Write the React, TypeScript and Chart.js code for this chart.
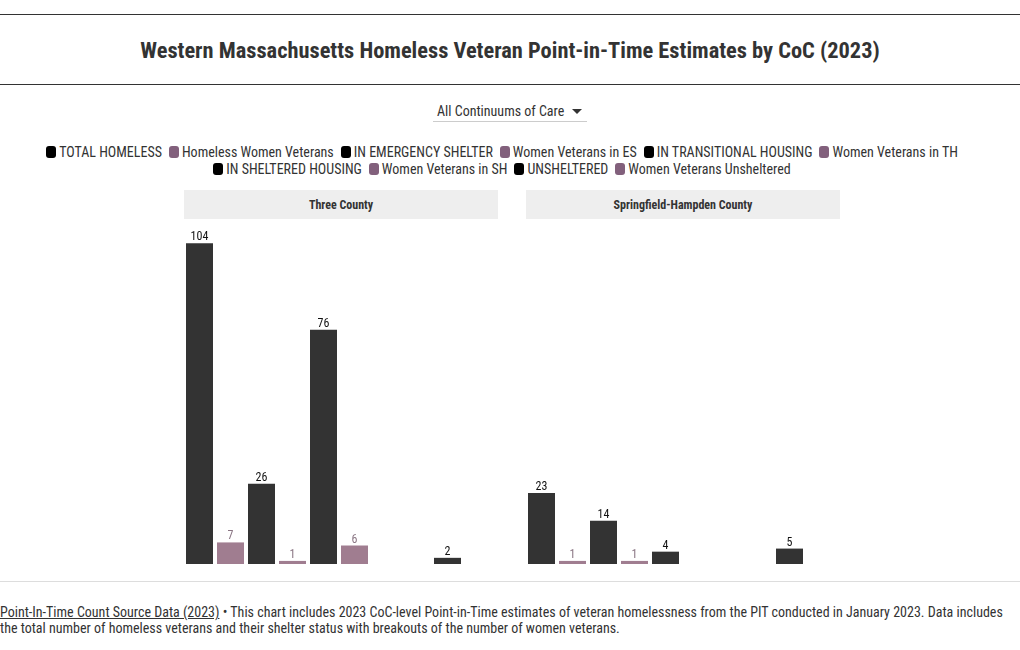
import React, { useEffect, useRef } from "react";
import { Chart, registerables } from "chart.js";

Chart.register(...registerables);

const seriesNames = [
  "TOTAL HOMELESS",
  "Homeless Women Veterans",
  "IN EMERGENCY SHELTER",
  "Women Veterans in ES",
  "IN TRANSITIONAL HOUSING",
  "Women Veterans in TH",
  "IN SHELTERED HOUSING",
  "Women Veterans in SH",
  "UNSHELTERED",
  "Women Veterans Unsheltered",
];
const isWomen = [false, true, false, true, false, true, false, true, false, true];
const panelNames = ["Three County", "Springfield-Hampden County"];
const threeCountyValues: (number | null)[] = [104, 7, 26, 1, 76, 6, null, null, 2, null];
const springfieldValues: (number | null)[] = [23, 1, 14, 1, 4, null, null, null, 5, null];
const yMax = 108;

const FONT = "'Roboto Condensed', 'Liberation Sans Narrow', 'DejaVu Sans Condensed', Roboto, sans-serif";
const DARK_BAR = "#333333";
const MAUVE_BAR = "#a07d90";
const MAUVE_LEGEND = "#82607c";
const MAUVE_LABEL = "#8a7583";

const valueLabels = {
  id: "valueLabels",
  afterDatasetsDraw(chart: any) {
    const ctx = chart.ctx;
    ctx.save();
    ctx.font = "12px " + FONT;
    ctx.textAlign = "center";
    ctx.textBaseline = "bottom";
    chart.data.datasets.forEach((ds: any, i: number) => {
      const meta = chart.getDatasetMeta(i);
      meta.data.forEach((bar: any, j: number) => {
        const v = ds.data[j];
        if (v === null || v === undefined) return;
        ctx.fillStyle = isWomen[i] ? MAUVE_LABEL : "#111111";
        ctx.fillText(String(v), bar.x, bar.y);
      });
    });
    ctx.restore();
  },
};

function Panel({ values, left }: { values: (number | null)[]; left: number }) {
  const ref = useRef<HTMLCanvasElement>(null);
  useEffect(() => {
    if (!ref.current) return;
    const chart = new Chart(ref.current, {
      type: "bar",
      data: {
        labels: [""],
        datasets: seriesNames.map((name, i) => ({
          label: name,
          data: [values[i]],
          backgroundColor: isWomen[i] ? MAUVE_BAR : DARK_BAR,
          borderWidth: 0,
          barPercentage: 27 / 31,
          categoryPercentage: 1,
        })),
      },
      options: {
        animation: false,
        responsive: false,
        maintainAspectRatio: false,
        layout: { padding: { top: 11, bottom: 2, left: 0, right: 0 } },
        plugins: { legend: { display: false }, tooltip: { enabled: false }, title: { display: false } },
        scales: {
          x: { display: false },
          y: { display: false, min: 0, max: yMax },
        },
      },
      plugins: [valueLabels],
    });
    return () => chart.destroy();
  }, []);
  return (
    <canvas
      ref={ref}
      width={310}
      height={346}
      style={{ position: "absolute", left, top: 220, width: 310, height: 346 }}
    />
  );
}

export default function App() {
  const abs = (s: React.CSSProperties): React.CSSProperties => ({ position: "absolute", ...s });
  const row1 = [0, 1, 2, 3, 4, 5];
  const row2 = [6, 7, 8, 9];
  const legendItem = (i: number) => (
    <span key={i} style={{ display: "inline-flex", alignItems: "center", margin: "0 4px 0 3px" }}>
      <span
        style={{
          display: "inline-block",
          width: 10,
          height: 12,
          borderRadius: 3,
          background: isWomen[i] ? MAUVE_LEGEND : "#000",
          marginRight: 3,
        }}
      />
      {seriesNames[i]}
    </span>
  );
  return (
    <div style={abs({ left: 0, top: 0, width: 1020, height: 650, fontFamily: FONT, color: "#333", overflow: "hidden", background: "#fff" })}>
      <div style={abs({ left: 0, top: 14, width: 1020, height: 0, borderTop: "1px solid #333" })} />
      <div style={abs({ left: 0, top: 36, width: 1020, textAlign: "center", fontSize: 22.4, fontWeight: 700, color: "#333", lineHeight: "28px" })}>
        Western Massachusetts Homeless Veteran Point-in-Time Estimates by CoC (2023)
      </div>
      <div style={abs({ left: 0, top: 84, width: 1020, height: 0, borderTop: "1px solid #333" })} />
      <div style={abs({ left: 433, top: 102, width: 154, height: 19, borderBottom: "1px solid #ccc", fontSize: 14, lineHeight: "18px", color: "#333" })}>
        <span style={{ position: "absolute", left: 4 }}>All Continuums of Care</span>
        <span style={{ position: "absolute", left: 139, top: 7, width: 0, height: 0, borderLeft: "5px solid transparent", borderRight: "5px solid transparent", borderTop: "5px solid #333" }} />
      </div>
      <div style={abs({ left: 0, top: 144, width: 1005, textAlign: "center", fontSize: 14, lineHeight: "16px", color: "#333" })}>
        <div>{row1.map(legendItem)}</div>
        <div>{row2.map(legendItem)}</div>
      </div>
      {panelNames.map((p, k) => (
        <div
          key={p}
          style={abs({ left: k === 0 ? 184 : 526, top: 190, width: 314, height: 29, background: "#eeeeee", textAlign: "center", fontSize: 12, fontWeight: 700, lineHeight: "30px", color: "#333" })}
        >
          {p}
        </div>
      ))}
      <Panel values={threeCountyValues} left={184} />
      <Panel values={springfieldValues} left={526} />
      <div style={abs({ left: 0, top: 581, width: 1020, height: 0, borderTop: "1px solid #ddd" })} />
      <div style={abs({ left: 0, top: 604, width: 1015, fontSize: 14, lineHeight: "16px", color: "#333" })}>
        <span style={{ textDecoration: "underline" }}>Point-In-Time Count Source Data (2023)</span> • This chart includes 2023 CoC-level Point-in-Time estimates of veteran homelessness from the PIT conducted in January 2023. Data includes the total number of homeless veterans and their shelter status with breakouts of the number of women veterans.
      </div>
    </div>
  );
}
